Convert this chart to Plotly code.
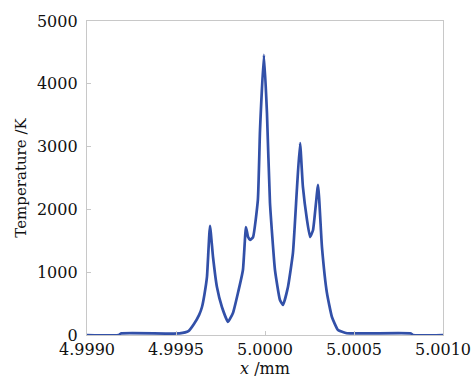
import plotly.graph_objects as go

x_mm = [4.9990, 4.99918, 4.99919, 4.99952, 4.99957, 4.99960, 4.99963, 4.999646,
        4.99966, 4.999674, 4.999691, 4.999708, 4.99973, 4.999758, 4.999792,
        4.99982, 4.999848, 4.999876, 4.999893, 4.999905, 4.999916, 4.999933,
        4.99996, 4.999972, 4.999994, 5.000011, 5.000028, 5.000056, 5.000084,
        5.000101, 5.000129, 5.000157, 5.00018, 5.000197, 5.000213, 5.000236,
        5.000253, 5.00027, 5.000298, 5.00032, 5.000348, 5.000376, 5.00041,
        5.00046, 5.00082, 5.00083, 5.0010]
temp_K = [0, 0, 25, 25, 60, 170, 320, 446,
          650, 924, 1740, 1242, 764, 446, 210,
          350, 669, 1035, 1720, 1560, 1513, 1560,
          2150, 3264, 4460, 3535, 2102, 1035, 557,
          478, 764, 1306, 2357, 3057, 2357, 1831,
          1560, 1672, 2389, 1401, 669, 287, 80,
          28, 25, 0, 0]

x_ticks = [4.9990, 4.9995, 5.0000, 5.0005, 5.0010]
x_tick_text = ["4.9990", "4.9995", "5.0000", "5.0005", "5.0010"]
y_ticks = [0, 1000, 2000, 3000, 4000, 5000]

font_family = "DejaVu Serif"

fig = go.Figure()
fig.add_trace(go.Scatter(x=x_mm, y=temp_K, mode="lines",
                         line=dict(color="#3250a8", width=2.7,
                                   shape="spline", smoothing=0.4),
                         showlegend=False))

fig.update_layout(
    width=473, height=385,
    margin=dict(l=87, r=30, t=21, b=50),
    paper_bgcolor="white", plot_bgcolor="white",
    font=dict(family=font_family, size=16, color="#111111"),
    xaxis=dict(range=[4.9990, 5.0010], tickvals=x_ticks, ticktext=x_tick_text,
               showgrid=False, zeroline=False, showline=True, mirror=True,
               linecolor="#c8c8c8", linewidth=1.3, ticks="inside", ticklen=4,
               tickcolor="#c8c8c8", ticklabelstandoff=0, automargin=False,
               title=dict(text="<i>x</i> /mm", standoff=2,
                          font=dict(family=font_family, size=16))),
    yaxis=dict(range=[0, 5000], tickvals=y_ticks,
               showgrid=False, zeroline=False, showline=True, mirror=True,
               linecolor="#c8c8c8", linewidth=1.3, ticks="inside", ticklen=4,
               tickcolor="#c8c8c8", ticklabelstandoff=5, automargin=False,
               title=dict(text="Temperature /K", standoff=6,
                          font=dict(family=font_family, size=15))),
)

fig.write_html("out.html",
               config={"displayModeBar": False},
               post_script="document.body.style.margin='0';"
                           "document.body.style.overflow='hidden';")
